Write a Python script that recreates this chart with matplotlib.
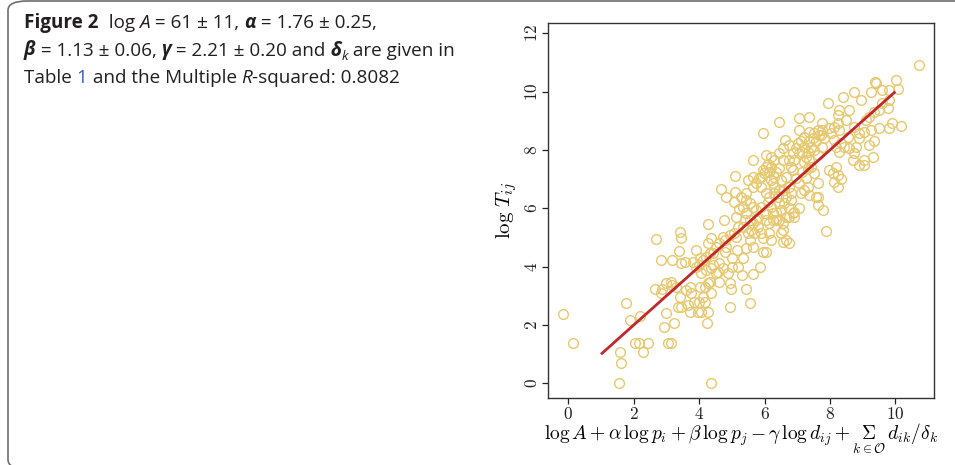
import numpy as np
import matplotlib.pyplot as plt
from matplotlib.patches import FancyBboxPatch

fit_x = [
    -0.17, 0.15, 1.58, 1.60, 1.56, 4.35, 1.77, 1.90, 2.20, 2.05, 2.15, 2.45, 2.27,
    2.68, 2.82, 2.64, 2.85, 2.84, 2.92, 3.00, 3.05, 3.15, 3.23, 3.00, 3.15, 3.18,
    3.42, 3.44, 3.38, 3.46, 3.56, 3.43, 3.36, 3.46, 3.71, 3.76, 3.83, 3.89, 3.80,
    4.00, 4.07, 4.02, 4.00, 3.97, 4.07, 4.12, 4.17, 4.24, 4.27, 4.27, 4.27, 4.32,
    4.37, 4.37, 4.32, 4.42, 4.52, 4.60, 4.62, 4.66, 4.76, 4.73, 4.81, 4.83, 4.78,
    4.93, 4.98, 4.95, 4.99, 5.01, 5.11, 5.11, 5.08, 5.13, 5.18, 5.13, 5.15, 5.18,
    5.30, 5.34, 5.42, 5.44, 5.56, 5.64, 5.66, 5.69, 5.64, 5.49, 5.44, 5.34, 5.44,
    5.54, 5.59, 5.85, 5.95, 6.05, 5.95, 6.05, 6.10, 6.21, 6.43, 6.63, 6.55, 6.81,
    6.76, 6.86, 6.55, 6.66, 6.55, 6.76, 6.20, 6.15, 6.13, 6.25, 6.05, 6.00, 5.89,
    5.79, 7.04, 7.35, 7.06, 7.11, 7.01, 7.22, 7.37, 7.16, 7.27, 7.37, 7.42, 7.52,
    7.62, 7.37, 7.57, 7.62, 7.78, 7.88, 7.11, 7.06, 6.91, 6.96, 6.86, 6.76, 6.66,
    6.50, 6.45, 6.35, 6.30, 6.25, 6.30, 6.40, 6.45, 6.15, 6.10, 6.05, 5.89, 5.84,
    7.93, 8.39, 8.74, 8.95, 9.25, 9.38, 9.40, 9.60, 9.81, 10.01, 10.09, 10.72,
    9.81, 9.76, 9.60, 9.50, 9.35, 9.20, 9.10, 8.59, 8.28, 8.23, 8.49, 8.74, 8.89,
    9.04, 9.25, 9.50, 9.81, 9.91, 10.16, 9.35, 9.20, 9.30, 9.04, 8.89, 9.04, 8.69,
    8.74, 8.59, 8.43, 8.33, 8.54, 8.89, 8.79, 8.28, 8.18, 8.13, 8.02, 7.98, 8.13,
    8.28, 7.77, 7.67, 7.57, 7.77, 7.52, 7.62, 7.42, 8.18, 8.23, 8.08, 7.98, 8.13,
    8.33, 8.23, 7.62, 5.08, 4.93, 4.78, 4.62, 4.52, 4.42, 4.22, 4.12, 4.02, 3.91,
    4.22, 4.37, 4.57, 4.73, 4.88, 4.17, 4.27, 3.71, 3.61, 3.30, 3.18, 3.66, 5.34,
    5.49, 5.54, 5.64, 5.74, 5.79, 5.89, 5.95, 5.74, 5.64, 5.54, 5.44, 5.28, 5.23,
    5.39, 5.89, 5.99, 6.20, 6.30, 6.45, 6.60, 6.66, 6.60, 6.81, 6.50, 6.35, 6.25,
    6.20, 6.35, 6.45, 6.66, 6.76, 6.91, 6.55, 6.50, 6.81, 6.76, 6.91, 7.06, 6.96,
    6.86, 7.22, 7.32, 7.22, 7.16, 7.32, 7.06, 7.27, 7.32, 7.22, 6.45, 6.55, 6.76,
    6.30, 6.20, 6.05, 5.95, 6.15, 5.64, 5.74, 5.64, 7.72, 7.47, 7.52, 7.62, 7.37,
    7.83, 7.77, 8.23,
]
log_T = [
    2.37, 1.37, 1.07, 0.69, 0.00, 0.00, 2.77, 2.17, 2.31, 1.37, 1.37, 1.37, 1.07,
    4.96, 4.23, 3.22, 3.22, 3.09, 1.94, 2.42, 1.37, 1.37, 2.06, 3.43, 3.49, 4.23,
    5.19, 4.97, 4.55, 4.11, 4.17, 2.97, 2.63, 2.63, 2.43, 3.09, 2.80, 4.57, 4.17,
    4.06, 3.77, 3.31, 2.80, 2.43, 2.43, 2.97, 2.80, 2.06, 2.46, 5.46, 4.82, 3.49,
    3.09, 4.97, 4.46, 4.06, 3.77, 3.49, 4.11, 6.65, 5.60, 5.03, 6.40, 4.69, 4.51,
    3.43, 3.22, 2.61, 4.00, 4.29, 7.11, 6.57, 6.23, 5.71, 5.37, 5.03, 4.57, 4.00,
    3.71, 4.29, 4.63, 3.22, 2.77, 3.75, 4.69, 5.14, 7.66, 6.97, 6.51, 6.06, 5.83,
    5.60, 5.26, 4.00, 4.51, 4.51, 8.57, 7.83, 7.52, 7.43, 8.97, 8.34, 7.66, 6.29,
    6.00, 5.83, 5.49, 4.91, 4.86, 4.82, 4.91, 5.14, 5.49, 5.60, 5.60, 5.83, 6.06,
    5.71, 9.09, 9.14, 8.69, 8.29, 8.23, 8.46, 8.63, 7.94, 7.77, 7.66, 7.43, 7.20,
    6.86, 6.46, 6.40, 6.11, 5.94, 5.23, 6.51, 6.00, 5.71, 7.03, 7.31, 6.74, 7.09,
    6.97, 7.37, 7.26, 7.09, 6.86, 6.51, 6.40, 6.17, 6.40, 6.23, 6.51, 6.74, 7.03,
    9.60, 9.83, 10.00, 9.71, 10.00, 10.34, 10.29, 10.06, 10.06, 10.40, 10.08, 10.91,
    9.71, 9.43, 9.60, 9.37, 9.31, 9.14, 9.03, 9.37, 9.37, 9.20, 9.03, 8.80, 8.57,
    8.63, 8.69, 8.74, 8.74, 8.91, 8.82, 8.29, 8.17, 7.75, 7.66, 7.49, 7.49, 7.66,
    7.89, 8.06, 8.11, 8.23, 8.46, 8.40, 8.11, 7.94, 8.11, 8.34, 8.57, 8.74, 8.80,
    8.69, 8.69, 8.51, 8.29, 8.11, 7.99, 7.83, 8.11, 7.43, 7.14, 7.20, 7.31, 6.91,
    6.99, 6.74, 6.40, 5.14, 5.09, 4.91, 4.80, 4.69, 4.46, 4.34, 4.23, 4.29, 4.00,
    3.89, 3.94, 3.83, 3.94, 3.77, 3.31, 3.43, 3.31, 3.20, 3.31, 3.37, 2.69, 5.37,
    5.14, 4.91, 5.49, 5.60, 5.37, 5.14, 4.97, 5.94, 6.06, 6.17, 6.29, 6.40, 5.97,
    5.60, 7.09, 7.20, 6.97, 6.74, 6.63, 6.63, 6.40, 6.17, 6.51, 5.94, 5.89, 5.83,
    6.06, 5.60, 5.60, 5.71, 5.71, 5.89, 5.26, 5.14, 7.43, 7.66, 7.66, 7.89, 8.06,
    7.89, 8.11, 7.94, 7.60, 7.26, 7.37, 6.86, 7.03, 6.74, 6.63, 7.89, 8.06, 8.17,
    7.66, 7.77, 7.43, 7.31, 7.26, 7.09, 6.86, 6.74, 8.51, 8.40, 8.57, 8.69, 8.29,
    8.40, 8.91, 8.91,
]

# regression line
line_x = [1, 10]
line_y = [1, 10]

x_ticks = [0, 2, 4, 6, 8, 10]
y_ticks = [0, 2, 4, 6, 8, 10, 12]

text_col = "#231f20"

fig = plt.figure(figsize=(9.55, 4.65), dpi=100)

# rounded frame around the whole figure (bottom and right run off the page)
frame = FancyBboxPatch((8 / 955, -4 / 465), 1.2, 468 / 465,
                       boxstyle="round,pad=0,rounding_size=0.02",
                       transform=fig.transFigure, fill=False,
                       edgecolor="#6d6e70", linewidth=1.2, clip_on=False)
fig.patches.append(frame)

ax = fig.add_axes([548 / 955, 67 / 465, 386 / 955, 375 / 465])
ax.plot(fit_x, log_T, "o", markersize=7.0, markerfacecolor="none",
        markeredgecolor="#e7c86e", markeredgewidth=1.0)
ax.plot(line_x, line_y, color="#c1272d", linewidth=2.0, solid_capstyle="butt")

ax.set_xlim(-0.62, 11.18)
ax.set_ylim(-0.5, 12.35)
ax.set_xticks(x_ticks)
ax.set_yticks(y_ticks)
ax.set_xticklabels([f"${t}$" for t in x_ticks], math_fontfamily="cm", fontsize=12.5)
ax.set_yticklabels([f"${t}$" for t in y_ticks], math_fontfamily="cm", fontsize=12.5,
                   rotation=90, va="center")
ax.tick_params(direction="out", length=4, width=0.9, colors="#222222", pad=1)
for s in ax.spines.values():
    s.set_linewidth(1.0)
    s.set_color("#333333")

ax.set_xlabel(r"$\log A + \alpha\,\log p_i + \beta\,\log p_j - \gamma\,\log d_{ij}"
              r" + \underset{k\in\mathcal{O}}{\Sigma}\, d_{ik}/\delta_k$",
              math_fontfamily="cm", fontsize=14, labelpad=-1)
ax.set_ylabel(r"$\log\,T_{ij}$", math_fontfamily="cm", fontsize=15, labelpad=3)

# caption, drawn piece by piece
cap_size = 13.6
reg = dict(family="Open Sans", size=cap_size, color=text_col)
lines = [
    [("Figure 2", dict(weight="bold")), ("  log ", {}), ("A", dict(style="italic")),
     (" = 61 \u00b1 11, ", {}), ("\u03b1", dict(weight="bold", style="italic")),
     (" = 1.76 \u00b1 0.25,", {})],
    [("\u03b2", dict(weight="bold", style="italic")), (" = 1.13 \u00b1 0.06, ", {}),
     ("\u03b3", dict(weight="bold", style="italic")), (" = 2.21 \u00b1 0.20 and ", {}),
     ("\u03b4", dict(weight="bold", style="italic")),
     ("k", dict(style="italic", size=cap_size * 0.7, sub=True)), (" are given in", {})],
    [("Table ", {}), ("1", dict(color="#3a5cc7")), (" and the Multiple ", {}),
     ("R", dict(style="italic")), ("-squared: 0.8082", {})],
]
baselines = [28, 55.5, 83]

fig.canvas.draw()
renderer = fig.canvas.get_renderer()
for chunks, yb in zip(lines, baselines):
    x = 24
    for s, props in chunks:
        p = dict(reg)
        p.update(props)
        dy = 0
        if p.pop("sub", False):
            dy = 4
        fig.text(x / 955, 1 - (yb + dy) / 465, s, va="baseline", ha="left", **p)
        # measure with spaces replaced so trailing blanks count
        probe = fig.text(0, 0, s.replace(" ", "\u00a0"), **p)
        w = probe.get_window_extent(renderer).width
        probe.remove()
        x += w

fig.savefig("out.png", dpi=100)
